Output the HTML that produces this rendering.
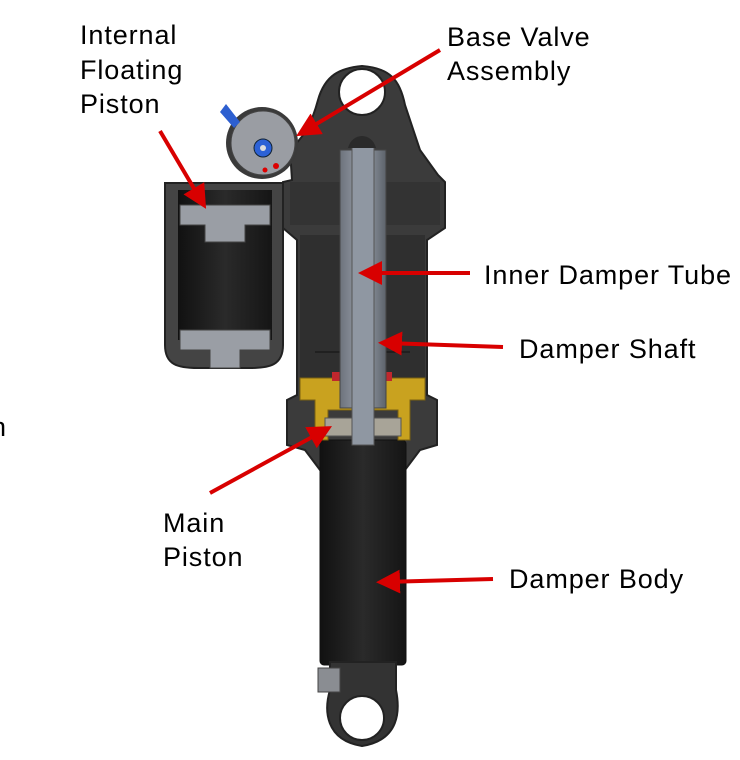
<!DOCTYPE html>
<html><head><meta charset="utf-8"><style>
html,body{margin:0;padding:0;background:#fff;}
svg{display:block}
text{font-family:"Liberation Sans",sans-serif;font-size:27px;letter-spacing:0.9px;fill:#000}
</style></head><body>
<svg width="740" height="760" viewBox="0 0 740 760">
<defs>
<marker id="ah" markerWidth="6" markerHeight="6" refX="4" refY="3" orient="auto" markerUnits="strokeWidth">
<path d="M0,0 L6,3 L0,6 Z" fill="#d80000"/></marker>
<linearGradient id="blk" x1="0" x2="1"><stop offset="0" stop-color="#111"/><stop offset="0.5" stop-color="#2a2a2a"/><stop offset="1" stop-color="#151515"/></linearGradient>
<linearGradient id="tube" x1="0" x2="1"><stop offset="0" stop-color="#6d737c"/><stop offset="0.5" stop-color="#9aa2ad"/><stop offset="1" stop-color="#5d636b"/></linearGradient>
</defs>
<path d="M292,180 L290,150 C300,140 310,130 318,100 C325,75 340,68 362,66 C390,68 400,80 405,105 L420,150 L438,175 L445,182 L445,228 L427,240 L427,395 L437,400 L437,445 L420,450 L405,470 L320,470 L305,450 L287,445 L287,400 L297,395 L297,240 L283,228 L283,182 Z" fill="#3b3b3b" stroke="#222" stroke-width="2"/>
<rect x="300" y="235" width="125" height="160" fill="#2f2f2f"/>
<circle cx="362" cy="92" r="23" fill="#fff" stroke="#222" stroke-width="2"/>
<path d="M290,182 L440,182 L440,225 L290,225 Z" fill="#333"/>
<line x1="315" y1="352" x2="410" y2="352" stroke="#111" stroke-width="1"/>
<rect x="320" y="440" width="86" height="225" rx="4" fill="url(#blk)" stroke="#111"/>
<path d="M330,662 L396,662 L396,690 C400,710 400,740 362,746 C325,740 324,710 330,690 Z" fill="#333" stroke="#222" stroke-width="2"/>
<circle cx="362" cy="718" r="22" fill="#fff" stroke="#222" stroke-width="2"/>
<rect x="318" y="668" width="22" height="24" fill="#8a8d92" stroke="#444"/>
<path d="M300,378 L340,378 L340,395 L385,395 L385,378 L425,378 L425,400 L410,400 L410,440 L398,440 L398,410 L328,410 L328,440 L315,440 L315,400 L300,400 Z" fill="#c9a21f" stroke="#7a6010"/>
<rect x="332" y="372" width="8" height="9" fill="#c0272d"/>
<rect x="384" y="372" width="8" height="9" fill="#c0272d"/>
<rect x="325" y="418" width="76" height="18" fill="#a8a498" stroke="#555"/>
<rect x="340" y="150" width="46" height="258" fill="url(#tube)" stroke="#444"/>
<rect x="352" y="145" width="22" height="300" fill="#8f97a2" stroke="#555"/>
<path d="M348,148 C352,132 372,132 376,148 Z" fill="#2a2a2a"/>
<path d="M165,183 L283,183 L283,345 C283,365 270,368 250,368 L198,368 C178,368 165,365 165,345 Z" fill="#444" stroke="#222" stroke-width="2"/>
<rect x="178" y="190" width="94" height="150" fill="url(#blk)"/>
<path d="M180,205 L270,205 L270,225 L245,225 L245,242 L205,242 L205,225 L180,225 Z" fill="#9a9ea5" stroke="#444"/>
<path d="M180,330 L270,330 L270,350 L240,350 L240,368 L210,368 L210,350 L180,350 Z" fill="#9a9ea5" stroke="#444"/>
<circle cx="262" cy="143" r="36" fill="#3a3a3a"/>
<circle cx="263" cy="143" r="32" fill="#9a9da3" stroke="#444"/>
<circle cx="263" cy="148" r="9" fill="#2d62d6" stroke="#123"/>
<circle cx="263" cy="148" r="3" fill="#ddd"/>
<circle cx="276" cy="166" r="3" fill="#d00"/>
<circle cx="265" cy="170" r="2.5" fill="#d00"/>
<path d="M220,112 L226,104 L240,122 L234,128 Z" fill="#2d5fd0"/>
<g stroke="#d80000" stroke-width="4" fill="none" marker-end="url(#ah)">
<line x1="160" y1="131" x2="202" y2="202"/>
<line x1="440" y1="50" x2="303" y2="132"/>
<line x1="470" y1="273" x2="366" y2="273"/>
<line x1="503" y1="347" x2="386" y2="343"/>
<line x1="210" y1="493" x2="325" y2="430"/>
<line x1="493" y1="579" x2="384" y2="582"/>
</g>
<text x="80" y="44">Internal</text>
<text x="80" y="79">Floating</text>
<text x="80" y="113">Piston</text>
<text x="447" y="46">Base Valve</text>
<text x="447" y="80">Assembly</text>
<text x="484" y="284">Inner Damper Tube</text>
<text x="519" y="358">Damper Shaft</text>
<text x="163" y="532">Main</text>
<text x="163" y="566">Piston</text>
<text x="509" y="588">Damper Body</text>
<text x="-9" y="436">n</text>
</svg>
</body></html>
